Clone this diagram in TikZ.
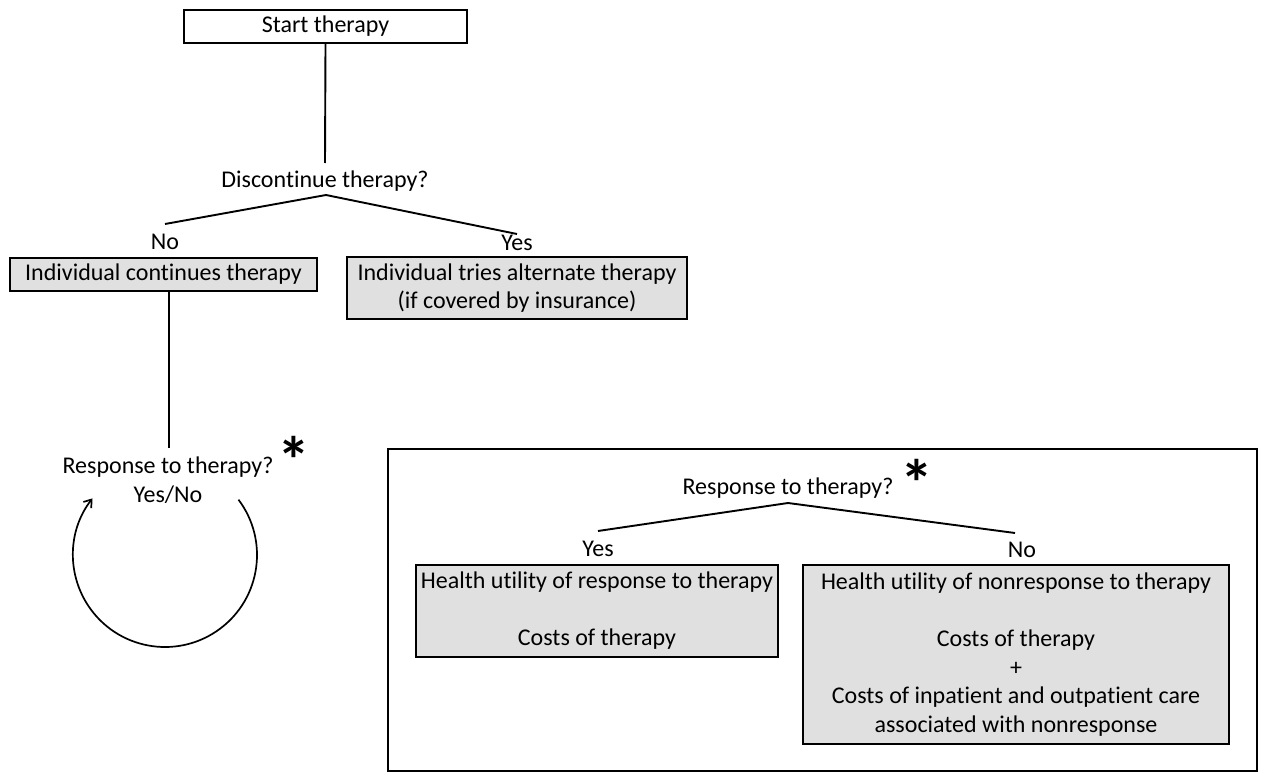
\documentclass[tikz,border=0pt]{standalone}
\usepackage{fontspec}
\setmainfont{Carlito}[Ligatures=NoCommon]
\usetikzlibrary{arrows.meta}
\definecolor{boxgray}{RGB}{224,224,224}
\begin{document}
\begin{tikzpicture}[x=1pt,y=-1pt,
  every node/.style={font=\fontsize{24}{28.5}\selectfont, inner sep=0pt},
  box/.style={draw, line width=1.7pt, align=center},
  gbox/.style={box, fill=boxgray},
  conn/.style={line width=1.9pt},
  loopline/.style={line width=1.7pt},
  star/.style={font=\fontsize{66}{66}\selectfont\bfseries, anchor=north}]
\useasboundingbox (0,0) rectangle (1267,773);

% top part
\node[box, minimum width=283, minimum height=33] (start) at (325.5,26.5) {Start therapy};
\node (disc) at (325,181) {Discontinue therapy?};
\coordinate (discTop) at (325,163);
\coordinate (discApex) at (326,195);
\coordinate (noEnd) at (165,224);
\coordinate (yesEnd) at (517,234);
\node (no1) at (165,242) {No};
\node (yes1) at (517,243) {Yes};
\node[gbox, minimum width=307, minimum height=33] (cont) at (163.5,274.5) {Individual continues therapy};
\node[gbox, minimum width=340, minimum height=62] (alt) at (517,288) {Individual tries alternate therapy\\(if covered by insurance)};

\draw[conn] (start.south) -- (discTop);
\draw[conn] (noEnd) -- (discApex) -- (yesEnd);

% left loop
\coordinate (respTop) at (169,448);
\node (resp1) at (168,467) {Response to therapy?};
\node (yn) at (168,495) {Yes/No};
\node[star] (star1) at (294,436) {*};
\draw[conn] (cont.south -| respTop) -- (respTop);
\coordinate (loopc) at (165,555);
\draw[loopline, -{Straight Barb[length=7pt,width=10pt]}] ([shift={(-37:92)}]loopc) arc[start angle=-37, end angle=218, radius=92];

% right frame
\node[draw, line width=1.7pt, minimum width=869, minimum height=322] (frame) at (822.5,610) {};
\node (resp2) at (788,488) {Response to therapy?};
\node[star] (star2) at (917,459) {*};
\coordinate (respApex) at (788,503);
\coordinate (yesEnd2) at (598,531);
\coordinate (noEnd2) at (1015,533);
\draw[conn] (yesEnd2) -- (respApex) -- (noEnd2);
\node (yes2) at (598,549) {Yes};
\node (no2) at (1022,550) {No};
\node[gbox, minimum width=362, minimum height=92] (ybox) at (597,611) {Health utility of response to therapy\\[28.5pt]Costs of therapy};
\node[gbox, minimum width=426, minimum height=179] (nbox) at (1016,654.5) {Health utility of nonresponse to therapy\\[28.5pt]Costs of therapy\\+\\Costs of inpatient and outpatient care\\associated with nonresponse};
\end{tikzpicture}
\end{document}
